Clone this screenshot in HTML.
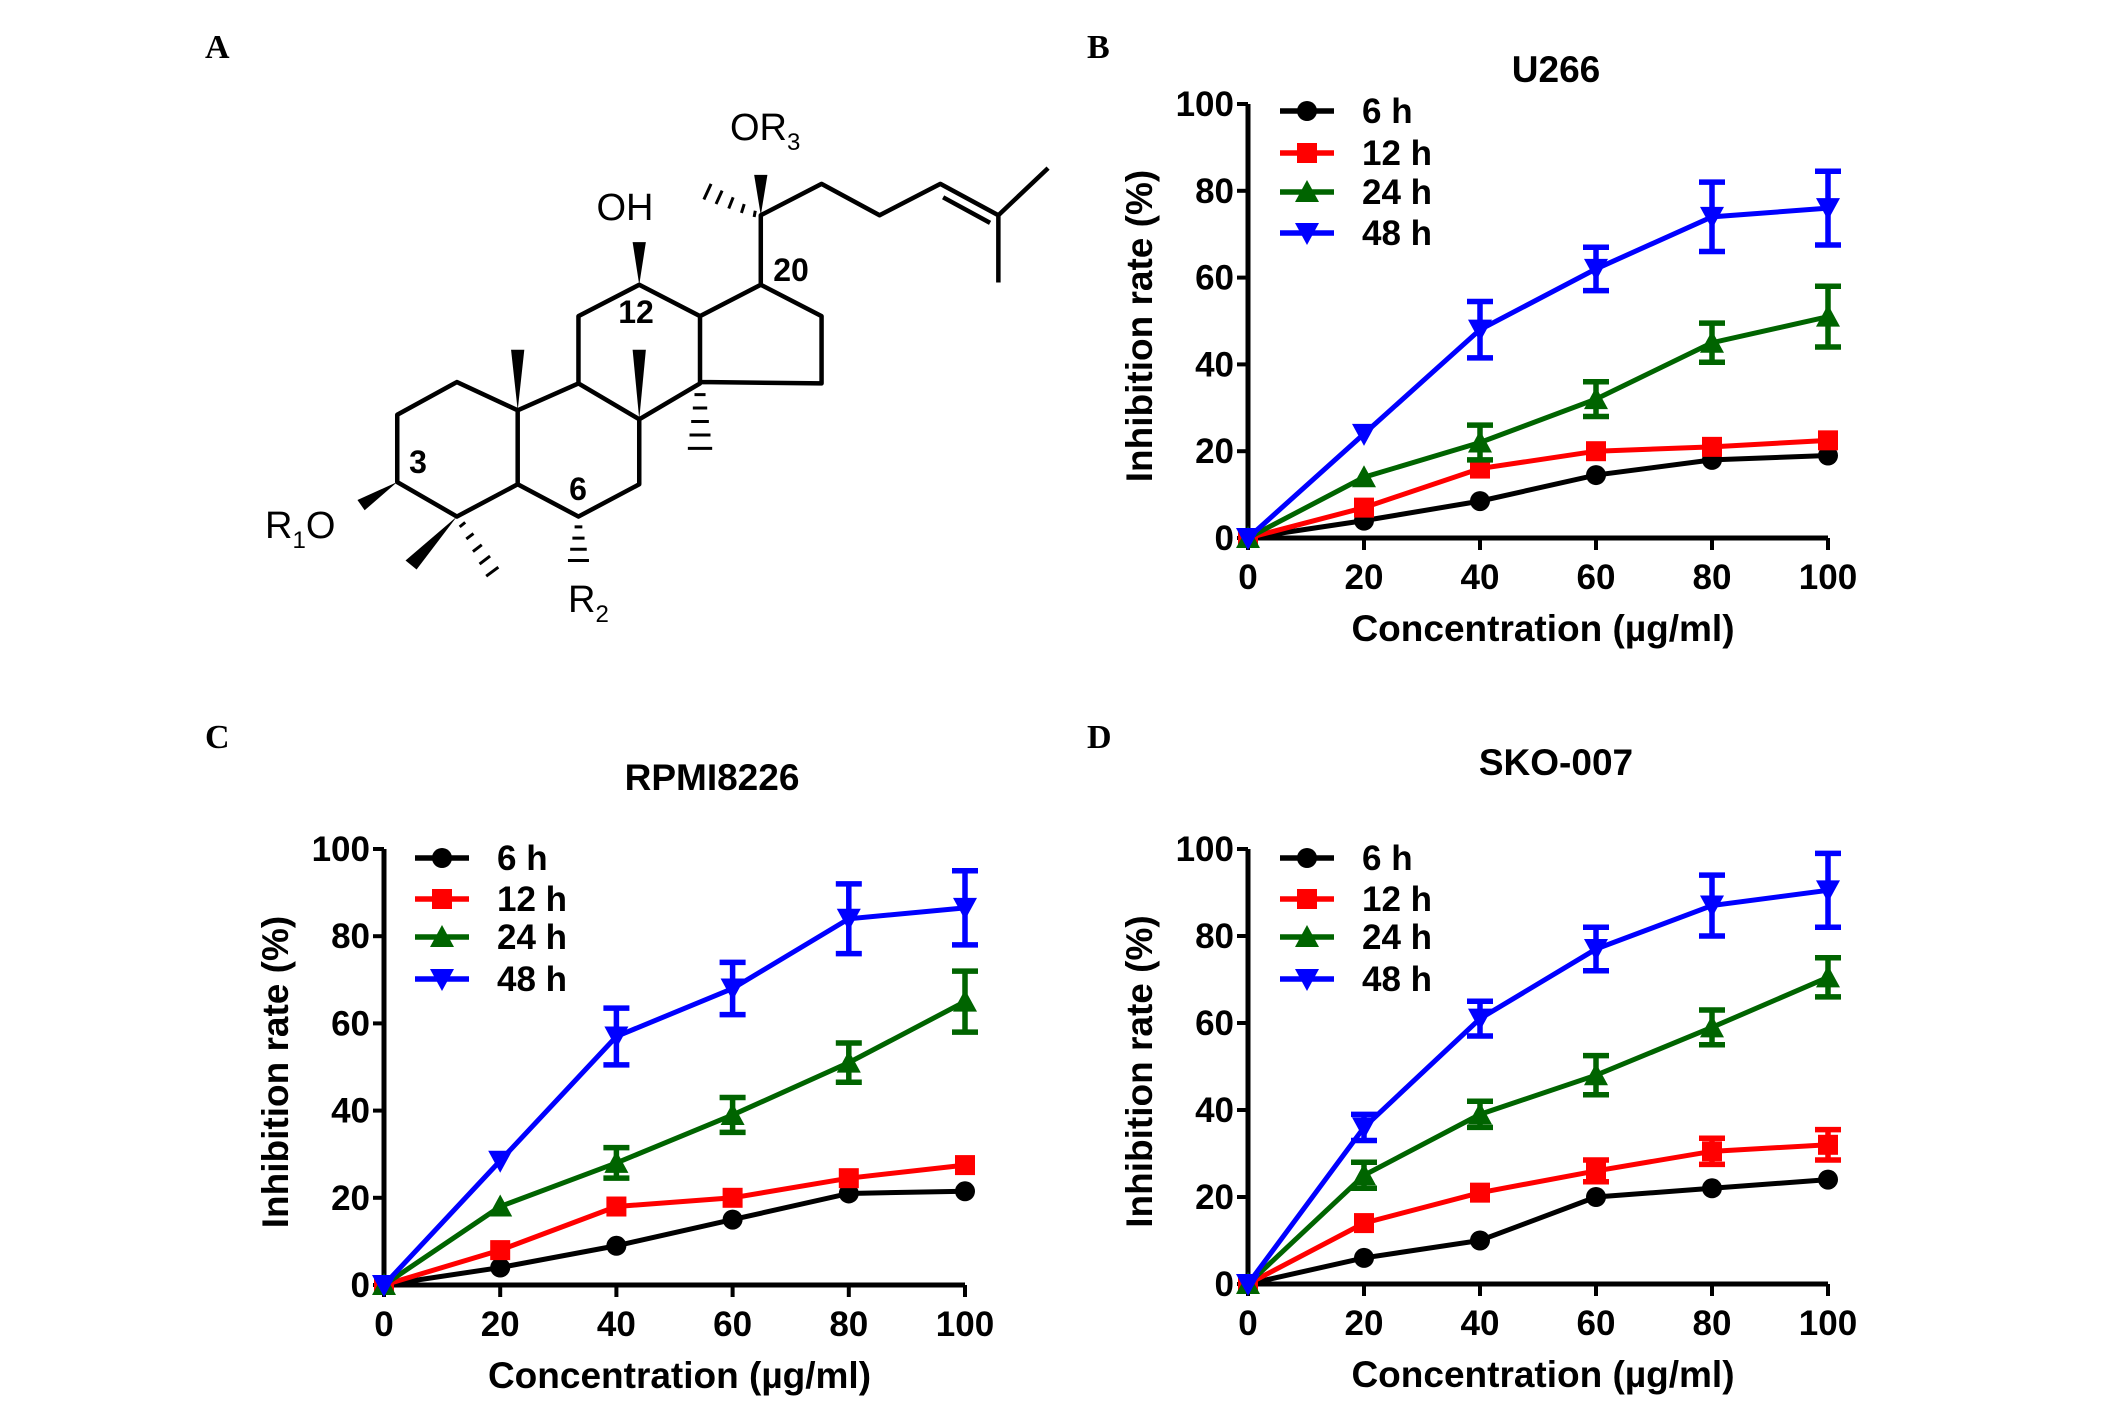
<!DOCTYPE html>
<html><head><meta charset="utf-8"><style>
html,body{margin:0;padding:0;background:#fff}
svg{display:block}
.tk{font-family:"Liberation Sans",sans-serif;font-weight:bold;font-size:35px;fill:#000}
.ttl{font-family:"Liberation Sans",sans-serif;font-weight:bold;font-size:37px;fill:#000}
.pl{font-family:"Liberation Serif",serif;font-weight:bold;font-size:34px;fill:#000}
.ch{font-family:"Liberation Sans",sans-serif;font-size:38px;fill:#000}
.chb{font-family:"Liberation Sans",sans-serif;font-weight:bold;font-size:32px;fill:#000}
</style></head><body>
<svg id="fig" width="2126" height="1407" viewBox="0 0 2126 1407" xmlns="http://www.w3.org/2000/svg">
<text class="pl" x="205" y="58">A</text>
<text class="pl" x="1087" y="58">B</text>
<text class="pl" x="205" y="748">C</text>
<text class="pl" x="1087" y="748">D</text>
<g id="structure">
<g transform="translate(200,0) scale(0.5525,0.4484)" fill="none" stroke="#000" stroke-width="4.5" stroke-linejoin="round">
<path vector-effect="non-scaling-stroke" d="M465,852 L357,925 L357,1075 L465,1152 L575,1080 L575,915 Z M575,915 L685,855 L795,935 L795,1080 L685,1152 L575,1080 M685,855 L685,705 L795,635 L905,705 L905,855 L795,935 M905,705 L1015,635 L1125,705 L1125,855 L905,852 M1015,635 L1015,480 L1125,410 L1230,480 L1340,410 L1445,480 L1535,375 M1445,480 L1445,630 M1345,440 L1430,497"/>
<g fill="#000" stroke="none">
<polygon points="575,915 563,780 587,780"/>
<polygon points="795,935 783,780 807,780"/>
<polygon points="795,635 783,540 807,540"/>
<polygon points="1015,480 1003,390 1027,390"/>
<polygon points="357,1075 285,1115 298,1138"/>
<polygon points="465,1152 372,1250 392,1270"/>
</g>
<path vector-effect="non-scaling-stroke" stroke-width="3" d="M1005,470 L1003,484 M985,455 L980,475 M965,440 L957,465 M945,425 L934,455 M925,410 L912,445 M895,880 L915,880 M892,910 L918,910 M889,940 L921,940 M886,970 L924,970 M883,1000 L927,1000 M678,1175 L692,1175 M674,1200 L696,1200 M670,1225 L700,1225 M666,1250 L704,1250 M480,1165 L470,1175 M495,1190 L482,1202 M510,1215 L494,1230 M525,1240 L506,1258 M540,1265 L518,1285"/>
</g>
<text class="ch" x="625" y="220" text-anchor="middle">OH</text>
<text class="ch" x="730" y="140">OR<tspan font-size="24" dy="10">3</tspan></text>
<text class="chb" x="791" y="281" text-anchor="middle">20</text>
<text class="chb" x="636" y="323" text-anchor="middle">12</text>
<text class="chb" x="418" y="473" text-anchor="middle">3</text>
<text class="chb" x="578" y="500" text-anchor="middle">6</text>
<text class="ch" x="265" y="538">R<tspan font-size="24" dy="10">1</tspan><tspan dy="-10">O</tspan></text>
<text class="ch" x="568" y="612">R<tspan font-size="24" dy="10">2</tspan></text>
</g>
</svg>
<script>
const xCats=[0,20,40,60,80,100];
const yTicks=[0,20,40,60,80,100];
const seriesNames=["6 h","12 h","24 h","48 h"];
const seriesColors=["#000000","#ff0000","#006400","#0000ff"];
const bTitle="U266";
const b6=[0,4,8.5,14.5,18,19];
const b12=[0,7,16,20,21,22.5];
const b24=[0,14,22,32,45,51];
const b48=[0,24,48,62,74,76];
const b24err=[0,0,4,4,4.5,7];
const b48err=[0,0,6.5,5,8,8.5];
const cTitle="RPMI8226";
const c6=[0,4,9,15,21,21.5];
const c12=[0,8,18,20,24.5,27.5];
const c24=[0,18,28,39,51,65];
const c48=[0,28.5,57,68,84,86.5];
const c24err=[0,0,3.5,4,4.5,7];
const c48err=[0,0,6.5,6,8,8.5];
const dTitle="SKO-007";
const d6=[0,6,10,20,22,24];
const d12=[0,14,21,26,30.5,32];
const d24=[0,25,39,48,59,70.5];
const d48=[0,36,61,77,87,90.5];
const d12err=[0,0,0,2.5,3,3.5];
const d24err=[0,3,3,4.5,4,4.5];
const d48err=[0,3,4,5,7,8.5];
const zero=[0,0,0,0,0,0];

const NS="http://www.w3.org/2000/svg";
const svg=document.getElementById('fig');
function mk(tag,attrs,parent){const e=document.createElementNS(NS,tag);for(const k in attrs)e.setAttribute(k,attrs[k]);(parent||svg).appendChild(e);return e;}

function marker(g,i,cx,cy,col){
  let m;
  if(i===0)m=mk('circle',{cx:cx,cy:cy,r:10,fill:col},g);
  else if(i===1)m=mk('rect',{x:cx-10,y:cy-10,width:20,height:20,fill:col},g);
  else if(i===2)m=mk('polygon',{points:`${cx},${cy-12} ${cx-12},${cy+10} ${cx+12},${cy+10}`,fill:col},g);
  else m=mk('polygon',{points:`${cx},${cy+12} ${cx-12},${cy-10} ${cx+12},${cy-10}`,fill:col},g);
  
  
}

function panel(id,P,title,titleX,titleY,series,errs,legX,legRows){
  const X=v=>P.x0+(v/100)*(P.x1-P.x0);
  const Y=v=>P.y0-(v/100)*(P.y0-P.y1);
  const g=mk('g',{});
  
  
  const t=mk('text',{x:titleX,y:titleY,'text-anchor':'middle',class:'ttl'},g);
  t.textContent=title;
  
  
  const ax=mk('path',{d:`M${P.x0},${Y(100)} L${P.x0},${P.y0} L${P.x1},${P.y0}`,fill:'none',stroke:'#000','stroke-width':5},g);
  
  
  yTicks.forEach(v=>{
    mk('line',{x1:P.x0-11,x2:P.x0,y1:Y(v),y2:Y(v),stroke:'#000','stroke-width':4},g);
    const l=mk('text',{x:P.x0-14,y:Y(v)+12,'text-anchor':'end',class:'tk'},g);
    l.textContent=v;
    
    
  });
  xCats.forEach(v=>{
    mk('line',{x1:X(v),x2:X(v),y1:P.y0,y2:P.y0+12,stroke:'#000','stroke-width':4},g);
    const l=mk('text',{x:X(v),y:P.y0+51,'text-anchor':'middle',class:'tk'},g);
    l.textContent=v;
    
    
  });
  const xt=mk('text',{x:(P.x0+P.x1)/2+5,y:P.y0+103,'text-anchor':'middle',class:'ttl'},g);
  xt.textContent='Concentration (µg/ml)';
  
  
  const yc=(P.y0+Y(100))/2+5;
  const yt=mk('text',{x:0,y:0,'text-anchor':'middle',class:'ttl',transform:`translate(${P.x0-96},${yc}) rotate(-90)`},g);
  yt.textContent='Inhibition rate (%)';
  
  
  series.forEach((s,i)=>{
    const col=seriesColors[i];
    const sg=mk('g',{},g);
    
    
    const pts=s.map((v,j)=>`${X(xCats[j])},${Y(v)}`).join(' ');
    const pl=mk('polyline',{points:pts,fill:'none',stroke:col,'stroke-width':5},sg);
    
    
    s.forEach((v,j)=>{
      const e=errs[i][j];
      if(e>0){
        const cx=X(xCats[j]);
        const eb=mk('path',{d:`M${cx},${Y(v+e)} L${cx},${Y(v-e)} M${cx-13},${Y(v+e)} L${cx+13},${Y(v+e)} M${cx-13},${Y(v-e)} L${cx+13},${Y(v-e)}`,stroke:col,'stroke-width':5.5,fill:'none'},sg);
        
        
      }
      marker(sg,i,X(xCats[j]),Y(v),col);
    });
  });
  seriesNames.forEach((n,i)=>{
    const lg=mk('g',{},g);
    
    
    const yy=legRows[i];
    mk('line',{x1:legX-27,x2:legX+27,y1:yy,y2:yy,stroke:seriesColors[i],'stroke-width':5.5},lg);
    marker(lg,i,legX,yy,seriesColors[i]);
    const tx=mk('text',{x:legX+55,y:yy+12,class:'tk'},lg);
    tx.textContent=n;
  });
}
const PB={x0:1248,x1:1828,y0:538,y1:104};
const PC={x0:384,x1:965,y0:1285,y1:849};
const PD={x0:1248,x1:1828,y0:1284,y1:849};
panel('u266',PB,bTitle,1556,82,[b6,b12,b24,b48],[zero,zero,b24err,b48err],1307,[111,153,192,233]);
panel('rpmi8226',PC,cTitle,712,790,[c6,c12,c24,c48],[zero,zero,c24err,c48err],442,[858,899,937,979]);
panel('sko007',PD,dTitle,1556,775,[d6,d12,d24,d48],[zero,d12err,d24err,d48err],1307,[858,899,937,979]);
</script>
</body></html>
